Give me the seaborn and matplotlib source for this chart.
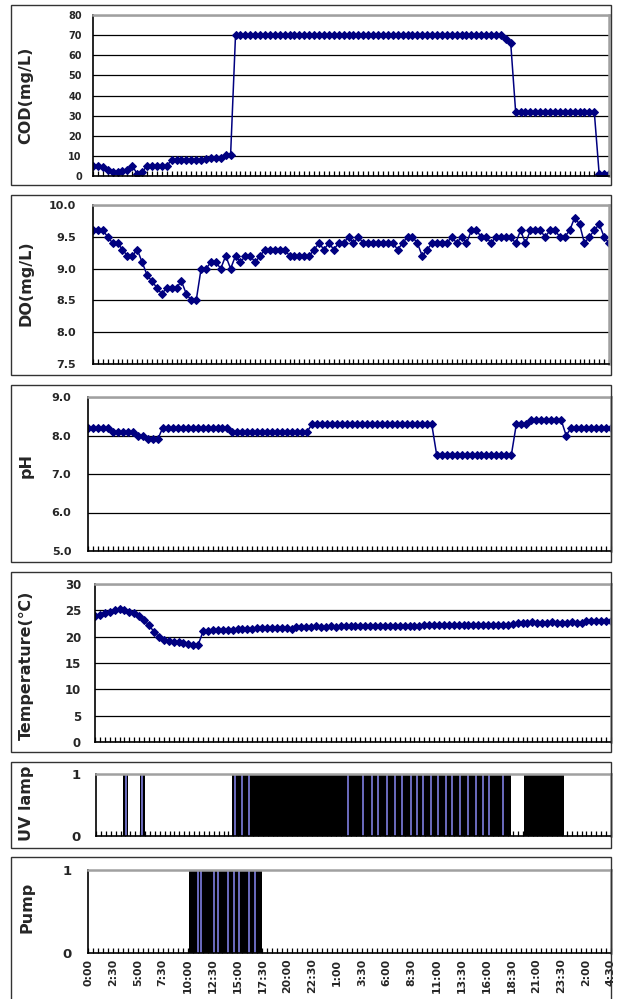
import numpy as np
import pandas as pd
import seaborn as sns
import matplotlib.pyplot as plt
from matplotlib.patches import Rectangle

sns.set_style("white")
plt.rcParams["font.family"] = ["DejaVu Sans"]

# time axis labels (every 2.5 h, samples every 30 min)
time_labels = ["0:00", "2:30", "5:00", "7:30", "10:00", "12:30", "15:00", "17:30",
               "20:00", "22:30", "1:00", "3:30", "6:00", "8:30", "11:00", "13:30",
               "16:00", "18:30", "21:00", "23:30", "2:00", "4:30"]

cod = [5, 5, 4.5, 3, 2, 2, 2.5, 3, 5, 1,
       2, 5, 5, 5, 5, 5, 8, 8, 8, 8,
       8, 8, 8, 8.5, 9, 9, 9, 10.5, 10.5,
       70, 70, 70, 70, 70, 70, 70, 70, 70, 70, 70,
       70, 70, 70, 70, 70, 70, 70, 70, 70, 70, 70,
       70, 70, 70, 70, 70, 70, 70, 70, 70, 70, 70,
       70, 70, 70, 70, 70, 70, 70, 70, 70, 70, 70,
       70, 70, 70, 70, 70, 70, 70, 70, 70, 70, 70,
       68, 66,
       32, 32, 32, 32, 32, 32, 32, 32, 32, 32, 32, 32, 32, 32, 32, 32, 32,
       1, 1, 1]

do = [9.6, 9.6, 9.6, 9.5, 9.4, 9.4, 9.3, 9.2, 9.2, 9.3,
      9.1, 8.9, 8.8, 8.7, 8.6, 8.7, 8.7, 8.7, 8.8, 8.6,
      8.5, 8.5, 9.0, 9.0, 9.1, 9.1, 9.0, 9.2, 9.0, 9.2,
      9.1, 9.2, 9.2, 9.1, 9.2, 9.3, 9.3, 9.3, 9.3, 9.3,
      9.2, 9.2, 9.2, 9.2, 9.2, 9.3,
      9.4, 9.3, 9.4, 9.3, 9.4, 9.4, 9.5, 9.4, 9.5, 9.4,
      9.4, 9.4, 9.4, 9.4, 9.4, 9.4, 9.3, 9.4, 9.5, 9.5,
      9.4, 9.2, 9.3, 9.4, 9.4, 9.4, 9.4, 9.5, 9.4, 9.5,
      9.4, 9.6, 9.6, 9.5, 9.5, 9.4, 9.5, 9.5, 9.5, 9.5,
      9.4, 9.6, 9.4, 9.6, 9.6, 9.6, 9.5, 9.6, 9.6, 9.5,
      9.5, 9.6, 9.8, 9.7, 9.4, 9.5, 9.6, 9.7, 9.5, 9.4]

ph = [8.2, 8.2, 8.2, 8.2, 8.2, 8.1, 8.1, 8.1, 8.1, 8.1,
      8.0, 8.0, 7.9, 7.9, 7.9,
      8.2, 8.2, 8.2, 8.2, 8.2, 8.2, 8.2, 8.2, 8.2, 8.2, 8.2, 8.2, 8.2, 8.2,
      8.1, 8.1, 8.1, 8.1, 8.1, 8.1, 8.1, 8.1, 8.1, 8.1, 8.1, 8.1, 8.1, 8.1, 8.1, 8.1,
      8.3, 8.3, 8.3, 8.3, 8.3, 8.3, 8.3, 8.3, 8.3, 8.3, 8.3, 8.3, 8.3,
      8.3, 8.3, 8.3, 8.3, 8.3, 8.3, 8.3, 8.3, 8.3, 8.3, 8.3, 8.3,
      7.5, 7.5, 7.5, 7.5, 7.5, 7.5, 7.5, 7.5, 7.5, 7.5, 7.5, 7.5, 7.5, 7.5, 7.5, 7.5,
      8.3, 8.3, 8.3,
      8.4, 8.4, 8.4, 8.4, 8.4, 8.4, 8.4,
      8.0,
      8.2, 8.2, 8.2, 8.2, 8.2, 8.2, 8.2, 8.2, 8.2]

temp = [23.9, 24.2, 24.5, 24.75, 25.1, 25.2, 25.0, 24.7, 24.4, 23.9,
        23.1, 22.2, 20.9, 20.0, 19.4, 19.1, 18.9, 18.9, 18.8, 18.7,
        18.4, 18.5, 21.0,
        21.1, 21.2, 21.2, 21.3, 21.3, 21.3, 21.4, 21.4, 21.5, 21.5,
        21.6, 21.6, 21.7, 21.7, 21.7, 21.6, 21.6, 21.5,
        21.8, 21.9, 21.9, 21.9, 22.0, 21.9, 21.9, 22.0, 21.9, 22.0, 22.0, 22.0,
        22.0, 22.1, 22.0, 22.1, 22.1, 22.0, 22.1, 22.1, 22.1, 22.0, 22.1, 22.1, 22.1, 22.1,
        22.2, 22.3, 22.2, 22.2, 22.3, 22.2, 22.2, 22.3, 22.2, 22.2, 22.3, 22.2,
        22.2, 22.2, 22.3, 22.2, 22.2, 22.3,
        22.5, 22.6, 22.6, 22.6, 22.7, 22.6, 22.6, 22.6, 22.7, 22.6, 22.6, 22.6,
        22.7, 22.6, 22.6,
        22.9, 22.9, 23.0, 22.9, 23.0, 23.0]

# on/off periods (hours from start)
uv_on_start = [2.8, 4.45, 13.9, 43.6]
uv_on_end = [3.3, 4.95, 42.35, 47.7]
uv_marks = [3.06, 4.72, 14.2, 14.9, 15.6, 25.65, 27.2, 28.1, 28.7, 29.7, 30.5, 31.2,
            32.1, 32.7, 33.3, 34.1, 34.9, 35.7, 36.3, 37.1, 37.9, 38.7, 39.5, 40.1, 41.5]
pump_on_start = [10.1]
pump_on_end = [17.5]
pump_marks = [11.0, 11.3, 12.6, 13.0, 14.1, 14.7, 15.2, 16.2, 16.8]

hours = np.arange(len(cod)) * 0.5
label_pos = np.arange(len(time_labels)) * 2.5

W, H = 618, 999
fig = plt.figure(figsize=(W / 100, H / 100), dpi=100)


def rect(l, t, r, b):
    return [l / W, 1 - b / H, (r - l) / W, (b - t) / H]


def frame(l, t, r, b):
    fig.add_artist(Rectangle((l / W, 1 - b / H), (r - l) / W, (b - t) / H,
                             transform=fig.transFigure, fill=False,
                             ec="#333333", lw=1.0))


def style(ax, yticks, ylabels, fs, pad, show_x=False):
    ax.set_xlim(0, 52.5)
    ax.set_ylim(yticks[0], yticks[-1])
    ax.set_yticks(yticks)
    ax.set_yticklabels(ylabels, fontsize=fs, fontweight="bold")
    ax.yaxis.grid(True, color="black", lw=0.9)
    ax.set_axisbelow(True)
    for s in ["top", "right"]:
        ax.spines[s].set_color("#a0a0a0")
        ax.spines[s].set_linewidth(1.8)
    for s in ["left", "bottom"]:
        ax.spines[s].set_color("black")
        ax.spines[s].set_linewidth(1.2)
    ax.set_xticks(label_pos)
    ax.set_xticks(hours, minor=True)
    ax.tick_params(axis="x", which="both", bottom=True, direction="in",
                   length=3.5, width=0.9, color="black")
    ax.tick_params(axis="y", left=False, length=0, pad=pad)
    if show_x:
        ax.set_xticklabels(time_labels, rotation=90, fontsize=7.8,
                           fontweight="bold", va="top")
        ax.tick_params(axis="x", pad=4)
    else:
        ax.set_xticklabels([])
    ax.set_xlabel("")
    ax.set_ylabel("")


def line_panel(values, box, yticks, ylabels, fs, pad, title, ty):
    ax = fig.add_axes(rect(*box))
    df = pd.DataFrame({"t": hours, "v": values})
    sns.lineplot(data=df, x="t", y="v", ax=ax, color="#000080", marker="D",
                 markersize=3.6, markeredgecolor="#000080", linewidth=1.1)
    style(ax, yticks, ylabels, fs, pad)
    fig.text(26 / W, 1 - ty / H, title, rotation=90, ha="center", va="center",
             fontsize=11.5, fontweight="bold")
    return ax


def onoff_panel(starts, ends, marks, box, pad, title, ty, show_x=False):
    ax = fig.add_axes(rect(*box))
    t = [0.0]
    s = [0]
    for a, b in zip(starts, ends):
        t += [a, b]
        s += [1, 0]
    t.append(52.5)
    s.append(0)
    ax.fill_between(t, s, step="post", color="black", lw=0)
    ax.vlines(marks, 0, 1, color="#7f7fe0", lw=1.2)
    style(ax, [0, 1], ["0", "1"], 9.5, pad, show_x=show_x)
    ax.yaxis.grid(False)
    fig.text(27 / W, 1 - ty / H, title, rotation=90, ha="center", va="center",
             fontsize=11.5, fontweight="bold")
    return ax


# frames
frame(11, 5, 611, 185)
frame(11, 195, 611, 375)
frame(11, 385, 611, 562)
frame(11, 572, 611, 752)
frame(11, 762, 611, 848)
frame(11, 857, 611, 1010)

line_panel(cod, (93, 15, 609, 176), [0, 10, 20, 30, 40, 50, 60, 70, 80],
           ["0", "10", "20", "30", "40", "50", "60", "70", "80"], 7, 8,
           "COD(mg/L)", 95)
line_panel(do, (93, 205, 609, 364), [7.5, 8.0, 8.5, 9.0, 9.5, 10.0],
           ["7.5", "8.0", "8.5", "9.0", "9.5", "10.0"], 8, 12,
           "DO(mg/L)", 283)
line_panel(ph, (88, 397, 611, 551), [5.0, 6.0, 7.0, 8.0, 9.0],
           ["5.0", "6.0", "7.0", "8.0", "9.0"], 8, 12,
           "pH", 465)
line_panel(temp, (95, 584, 611, 742), [0, 5, 10, 15, 20, 25, 30],
           ["0", "5", "10", "15", "20", "25", "30"], 8.5, 10,
           "Temperature(℃)", 665)
onoff_panel(uv_on_start, uv_on_end, uv_marks, (96, 774, 611, 836), 11,
            "UV lamp", 803)
onoff_panel(pump_on_start, pump_on_end, pump_marks, (88, 870, 611, 953), 12,
            "Pump", 907, show_x=True)

fig.savefig("out.png", dpi=100)
